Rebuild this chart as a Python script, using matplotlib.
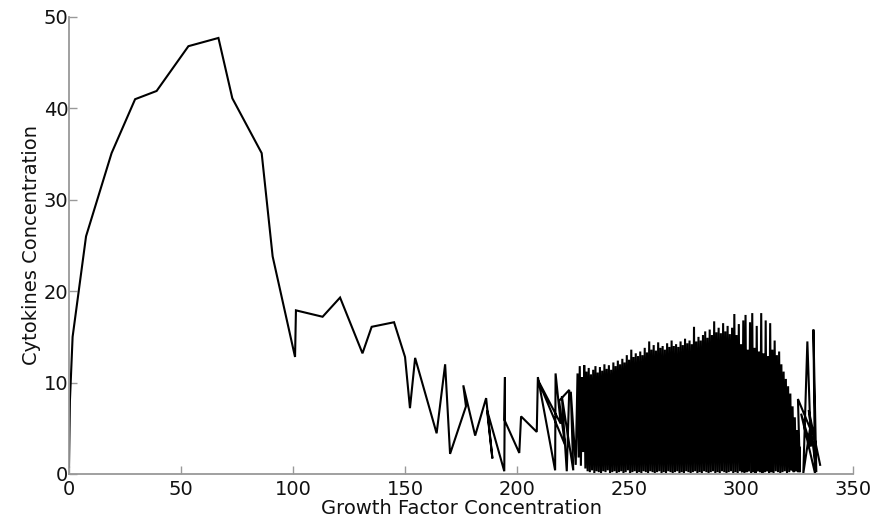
import matplotlib
matplotlib.use("Agg")
import matplotlib.pyplot as plt

# ---- data ----
path_x = [0.0, 0.4, 1.6, 7.6, 19.0, 29.5, 39.1, 53.3, 66.7, 72.9, 86.0, 90.9,
          100.9, 101.3, 113.2, 121.0, 131.0, 135.1, 145.1, 150.0, 152.2, 154.5,
          164.1, 167.9, 170.1, 177.2, 176.0, 181.3, 186.2, 189.0, 186.6, 194.3,
          194.6, 194.4, 201.0, 201.8, 208.8, 209.3, 217.0, 217.2, 219.5, 209.5,
          221.4, 218.8, 223.3, 222.2, 220.0, 225.1, 224.0, 226.2]
path_y = [0.8, 8.0, 15.0, 26.0, 35.1, 41.0, 41.9, 46.8, 47.7, 41.1, 35.1, 23.8,
          12.8, 17.9, 17.2, 19.3, 13.2, 16.1, 16.6, 12.8, 7.2, 12.7,
          4.45, 12.0, 2.2, 7.4, 9.7, 4.2, 8.3, 1.7, 7.0, 0.3,
          10.6, 5.9, 2.3, 6.3, 4.6, 10.6, 0.4, 11.0, 5.5, 10.2,
          3.2, 8.0, 9.2, 0.3, 8.5, 0.4, 9.0, 1.0]

dense_peak_x = [227, 228, 229, 230, 231, 232, 233, 234, 235, 236,
                237, 238, 239, 240, 241, 242, 243, 244, 245, 246,
                247, 248, 249, 250, 251, 252, 253, 254, 255, 256,
                257, 258, 259, 260, 261, 262, 263, 264, 265, 266,
                267, 268, 269, 270, 271, 272, 273, 274, 275, 276,
                277, 278, 279, 280, 281, 282, 283, 284, 285, 286,
                287, 288, 289, 290, 291, 292, 293, 294, 295, 296,
                297, 298, 299, 300, 301, 302, 303, 304, 305, 306,
                307, 308, 309, 310, 311, 312, 313, 314, 315, 316,
                317, 318, 319, 320, 321, 322, 323, 324, 325, 326]
dense_peak_y = [11.0, 11.8, 10.6, 11.9, 11.2, 11.6, 10.9, 11.4, 11.8, 11.1,
                11.7, 11.3, 12.0, 11.5, 11.9, 11.4, 12.2, 11.8, 12.4, 12.0,
                12.6, 12.2, 13.0, 12.5, 13.6, 12.8, 13.2, 12.9, 13.4, 13.0,
                13.8, 13.3, 14.5, 13.6, 14.1, 13.5, 14.4, 13.8, 14.0, 13.6,
                14.3, 13.9, 14.6, 14.0, 14.2, 13.9, 14.5, 14.1, 14.8, 14.3,
                14.6, 14.2, 16.1, 14.5, 15.0, 14.6, 15.2, 15.6, 14.9, 15.8,
                15.2, 16.7, 15.5, 16.0, 15.4, 16.5, 15.6, 16.2, 15.3, 16.0,
                17.5, 15.2, 16.4, 14.2, 16.8, 17.4, 13.6, 16.6, 17.6, 13.8,
                16.2, 13.4, 17.6, 13.2, 16.8, 12.9, 16.5, 13.6, 14.6, 13.0,
                13.4, 12.0, 11.2, 10.4, 9.6, 8.8, 7.4, 6.2, 4.8, 3.0]
dense_trough_x = [227.5, 228.5, 229.5, 230.5, 231.5, 232.5, 233.5, 234.5, 235.5, 236.5,
                  237.5, 238.5, 239.5, 240.5, 241.5, 242.5, 243.5, 244.5, 245.5, 246.5,
                  247.5, 248.5, 249.5, 250.5, 251.5, 252.5, 253.5, 254.5, 255.5, 256.5,
                  257.5, 258.5, 259.5, 260.5, 261.5, 262.5, 263.5, 264.5, 265.5, 266.5,
                  267.5, 268.5, 269.5, 270.5, 271.5, 272.5, 273.5, 274.5, 275.5, 276.5,
                  277.5, 278.5, 279.5, 280.5, 281.5, 282.5, 283.5, 284.5, 285.5, 286.5,
                  287.5, 288.5, 289.5, 290.5, 291.5, 292.5, 293.5, 294.5, 295.5, 296.5,
                  297.5, 298.5, 299.5, 300.5, 301.5, 302.5, 303.5, 304.5, 305.5, 306.5,
                  307.5, 308.5, 309.5, 310.5, 311.5, 312.5, 313.5, 314.5, 315.5, 316.5,
                  317.5, 318.5, 319.5, 320.5, 321.5, 322.5, 323.5, 324.5, 325.5, 326.3]
dense_trough_y = [1.8, 0.9, 2.4, 0.6, 0.3, 0.2, 0.4, 0.1, 0.3, 0.2,
                  0.1, 0.3, 0.2, 0.4, 0.1, 0.2, 0.3, 0.1, 0.2, 0.3,
                  0.1, 0.2, 0.4, 0.1, 0.2, 0.3, 0.1, 0.2, 0.1, 0.3,
                  0.2, 0.1, 0.3, 0.2, 0.1, 0.2, 0.3, 0.1, 0.2, 0.1,
                  0.3, 0.2, 0.1, 0.2, 0.3, 0.1, 0.2, 0.1, 0.3, 0.2,
                  0.1, 0.2, 0.3, 0.1, 0.2, 0.1, 0.3, 0.2, 0.1, 0.2,
                  0.3, 0.1, 0.2, 0.1, 0.3, 0.2, 0.1, 0.2, 0.3, 0.1,
                  0.2, 0.1, 0.3, 0.2, 0.1, 0.2, 0.3, 0.1, 0.2, 0.1,
                  0.3, 0.2, 0.1, 0.2, 0.3, 0.1, 0.2, 0.1, 0.3, 0.2,
                  0.1, 0.2, 0.3, 0.1, 0.2, 0.4, 0.2, 0.3, 0.2, 0.2]

tail_x = [325.4, 330.8, 327.8, 329.6, 331.2, 326.8, 333.0, 332.3, 333.6, 330.2, 335.3]
tail_y = [8.2, 5.0, 0.1, 14.5, 3.0, 6.6, 0.1, 15.8, 0.2, 7.0, 1.0]

x_ticks = [0, 50, 100, 150, 200, 250, 300, 350]
y_ticks = [0, 10, 20, 30, 40, 50]

# ---- assemble trajectory ----
xs = list(path_x)
ys = list(path_y)
for px, py, tx, ty in zip(dense_peak_x, dense_peak_y, dense_trough_x, dense_trough_y):
    xs += [px, tx]
    ys += [py, ty]
xs += tail_x
ys += tail_y

plt.rcParams['font.family'] = ['DejaVu Sans']
fig = plt.figure(figsize=(8.77, 5.29), dpi=100)
ax = fig.add_axes([0.0787, 0.104, 0.894, 0.864])
ax.plot(xs, ys, color='black', lw=1.5, solid_joinstyle='miter')

ax.set_xlim(0, 350)
ax.set_ylim(0, 50)
ax.set_xticks(x_ticks)
ax.set_yticks(y_ticks)
ax.tick_params(direction='in', length=5.5, width=1, color='#999999',
               labelsize=14, labelcolor='#111111')
ax.tick_params(axis='x', pad=4)
ax.tick_params(axis='y', pad=0.5)
for s in ['top', 'right']:
    ax.spines[s].set_visible(False)
for s in ['left', 'bottom']:
    ax.spines[s].set_color('#999999')
    ax.spines[s].set_linewidth(1.3)

ax.set_xlabel('Growth Factor Concentration', fontsize=14, labelpad=0, color='#111111')
ax.set_ylabel('Cytokines Concentration', fontsize=14, labelpad=2, color='#111111')

fig.savefig('out.png', dpi=100)
